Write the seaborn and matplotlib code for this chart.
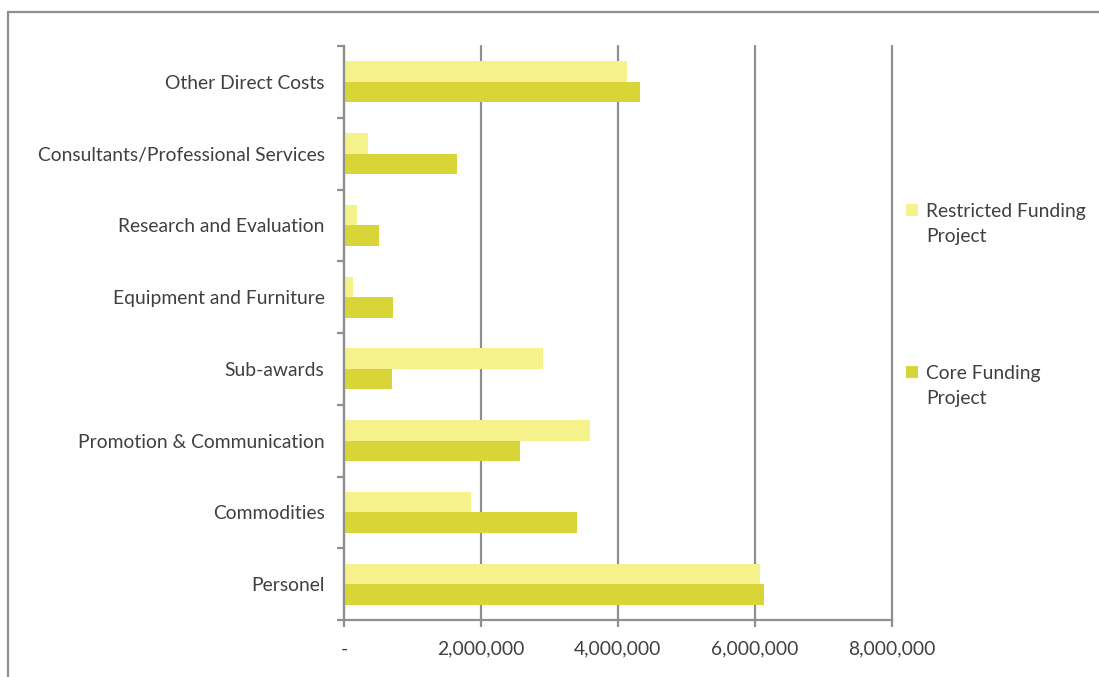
import matplotlib
matplotlib.use("Agg")
import matplotlib.pyplot as plt
from matplotlib.lines import Line2D
from matplotlib.patches import Patch
from matplotlib.ticker import FixedLocator, FuncFormatter
import seaborn as sns
import pandas as pd

categories = [
    "Other Direct Costs",
    "Consultants/Professional Services",
    "Research and Evaluation",
    "Equipment and Furniture",
    "Sub-awards",
    "Promotion & Communication",
    "Commodities",
    "Personel",
]
series_names = ["Restricted Funding Project", "Core Funding Project"]
restricted = [4130000, 350000, 190000, 130000, 2910000, 3590000, 1850000, 6080000]
core = [4320000, 1650000, 510000, 720000, 700000, 2570000, 3400000, 6130000]
x_ticks = [0, 2000000, 4000000, 6000000, 8000000]
legend_labels = ["Restricted Funding\nProject", "Core Funding\nProject"]

colors = ["#F5F28C", "#D9D539"]
grey = "#8F8F8F"
text_color = "#404040"
fsize = 13.9

df = pd.DataFrame({
    "category": categories * 2,
    "series": [series_names[0]] * len(categories) + [series_names[1]] * len(categories),
    "value": restricted + core,
})

sns.set_theme(style="white")
plt.rcParams["font.family"] = ["Lato", "DejaVu Sans"]

fig = plt.figure(figsize=(10.99, 6.77), dpi=100)
ax = fig.add_axes([344 / 1099, 1 - 620 / 677, (892 - 344) / 1099, (620 - 46) / 677])

sns.barplot(
    data=df, x="value", y="category", hue="series",
    order=categories, hue_order=series_names,
    palette=colors, width=0.57, linewidth=0, saturation=1,
    orient="h", ax=ax, legend=False,
)

ax.set_xlim(0, 8000000)
ax.set_ylim(len(categories) - 0.5, -0.5)
ax.set_xlabel("")
ax.set_ylabel("")

ax.xaxis.set_major_locator(FixedLocator(x_ticks))
ax.xaxis.set_major_formatter(FuncFormatter(lambda v, p: "-" if v == 0 else f"{int(v):,}"))
ax.grid(axis="x", color=grey, linewidth=1.6)
ax.grid(axis="y", visible=False)
ax.set_axisbelow(True)
for gl in ax.get_xgridlines():
    gl.set_clip_on(False)

for side in ["top", "right"]:
    ax.spines[side].set_visible(False)
for side in ["left", "bottom"]:
    ax.spines[side].set_color(grey)
    ax.spines[side].set_linewidth(1.6)

ax.set_yticks(range(len(categories)))
ax.set_yticklabels(categories)
ax.set_yticks([i - 0.5 for i in range(len(categories) + 1)], minor=True)
ax.tick_params(axis="y", which="major", length=0, pad=14, labelsize=fsize, labelcolor=text_color)
ax.tick_params(axis="y", which="minor", length=5, width=1.6, color=grey, direction="out", left=True)
ax.tick_params(axis="x", which="major", length=5, width=1.6, color=grey, direction="out",
               pad=10, labelsize=fsize, labelcolor=text_color, bottom=True)

handles = [Patch(facecolor=c, edgecolor="none") for c in colors]
leg = ax.legend(
    handles, legend_labels, loc="upper left", bbox_to_anchor=(906 / 1099, 1 - 203 / 677),
    bbox_transform=fig.transFigure, frameon=False, fontsize=fsize, labelcolor=text_color,
    handlelength=0.6, handleheight=0.6, handletextpad=0.45, labelspacing=6.2,
    borderpad=0, borderaxespad=0,
)
for t in leg.get_texts():
    t.set_linespacing(1.58)
for h in leg.legend_handles:
    h.set_y(h.get_y() + 10)

# outer frame of the chart area
fig.add_artist(Line2D([8 / 1099, 1.0], [1 - 12 / 677, 1 - 12 / 677], transform=fig.transFigure,
                      color=grey, linewidth=1.6))
fig.add_artist(Line2D([8 / 1099, 8 / 1099], [0.0, 1 - 12 / 677], transform=fig.transFigure,
                      color=grey, linewidth=1.6))

fig.savefig("out.png", dpi=100, facecolor="white")
